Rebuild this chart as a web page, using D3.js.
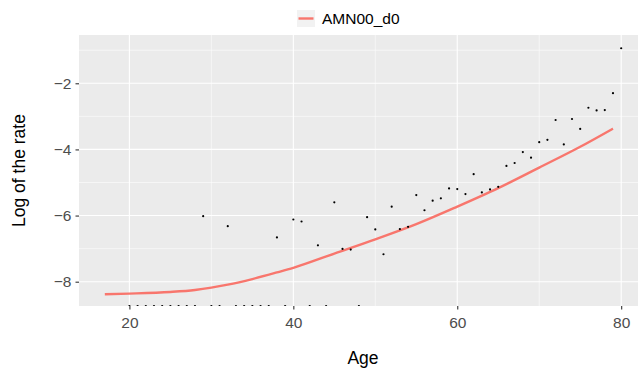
<!DOCTYPE html>
<html>
<head>
<meta charset="utf-8">
<script src="https://cdn.jsdelivr.net/npm/d3@7"></script>
<style>
  body { margin: 0; background: #fff; }
  text { font-family: "Liberation Sans", Arial, Helvetica, sans-serif; }
</style>
</head>
<body>
<figure id="chart" style="margin:0"></figure>
<script>
// observed log rates by age (null = log(0), drawn at the panel floor)
const ages = d3.range(20, 81);
const logRate = [
  null, null, null, null, null, null, null, null, null, -6.02,   // 20-29
  null, null, -6.32, null, null, null, null, null, -6.66, null,  // 30-39
  -6.12, -6.18, null, -6.90, null, -5.60, -7.01, -7.03, null, -6.05, // 40-49
  -6.42, -7.17, -5.73, -6.41, -6.34, -5.38, -5.84, -5.55, -5.48, -5.18, // 50-59
  -5.20, -5.35, -4.75, -5.30, -5.21, -5.13, -4.50, -4.41, -4.08, -4.25, // 60-69
  -3.78, -3.71, -3.11, -3.85, -3.08, -3.38, -2.74, -2.82, -2.81, -2.30, // 70-79
  -0.94                                                          // 80
];

// fitted curve AMN00_d0
const fitAges = [17, 20, 25, 28, 30, 32, 35, 38, 40, 45, 50, 55, 60, 65, 70, 75, 79];
const fitValues = [-8.38, -8.36, -8.31, -8.25, -8.18, -8.09, -7.92, -7.72, -7.58, -7.15, -6.72, -6.26, -5.73, -5.17, -4.55, -3.92, -3.37];

const xTicks = [20, 40, 60, 80];
const xMinor = [30, 50, 70];
const yTicks = [-8, -6, -4, -2];
const yMinor = [-7, -5, -3, -1];
const seriesName = 'AMN00_d0';

const W = 638, H = 371;
const panel = { left: 79, top: 35, right: 647, bottom: 306 };

const svg = d3.select('#chart').append('svg')
  .attr('width', W)
  .attr('height', H);

const x = d3.scaleLinear().domain([13.85, 83.15]).range([panel.left, panel.right]);
const y = d3.scaleLinear().domain([-8.735, -0.54]).range([panel.bottom, panel.top]);

svg.append('clipPath').attr('id', 'panel-clip')
  .append('rect')
  .attr('x', panel.left).attr('y', panel.top)
  .attr('width', panel.right - panel.left).attr('height', panel.bottom - panel.top);

const g = svg.append('g');

g.append('rect')
  .attr('x', panel.left).attr('y', panel.top)
  .attr('width', panel.right - panel.left).attr('height', panel.bottom - panel.top)
  .attr('fill', '#EBEBEB');

// minor grid
g.selectAll('line.xminor').data(xMinor).enter().append('line')
  .attr('x1', d => x(d)).attr('x2', d => x(d))
  .attr('y1', panel.top).attr('y2', panel.bottom)
  .attr('stroke', '#fff').attr('stroke-width', 0.55);
g.selectAll('line.yminor').data(yMinor).enter().append('line')
  .attr('x1', panel.left).attr('x2', panel.right)
  .attr('y1', d => y(d)).attr('y2', d => y(d))
  .attr('stroke', '#fff').attr('stroke-width', 0.55);

// major grid
g.selectAll('line.xmajor').data(xTicks).enter().append('line')
  .attr('x1', d => x(d)).attr('x2', d => x(d))
  .attr('y1', panel.top).attr('y2', panel.bottom)
  .attr('stroke', '#fff').attr('stroke-width', 1.1);
g.selectAll('line.ymajor').data(yTicks).enter().append('line')
  .attr('x1', panel.left).attr('x2', panel.right)
  .attr('y1', d => y(d)).attr('y2', d => y(d))
  .attr('stroke', '#fff').attr('stroke-width', 1.1);

const plot = svg.append('g').attr('clip-path', 'url(#panel-clip)');

const line = d3.line()
  .x((d, i) => x(fitAges[i]))
  .y(d => y(d))
  .curve(d3.curveMonotoneX);

plot.append('path')
  .datum(fitValues)
  .attr('d', line)
  .attr('fill', 'none')
  .attr('stroke', '#F8766D')
  .attr('stroke-width', 2.4);

plot.selectAll('circle.obs')
  .data(ages.map((a, i) => ({ age: a, v: logRate[i] })))
  .enter().append('circle')
  .attr('cx', d => x(d.age))
  .attr('cy', d => d.v === null ? panel.bottom : y(d.v))
  .attr('r', 1.1)
  .attr('fill', '#000');

// axes
const xAxis = svg.append('g')
  .attr('transform', `translate(0,${panel.bottom})`)
  .call(d3.axisBottom(x).tickValues(xTicks).tickSize(3.5).tickPadding(4));
const yAxis = svg.append('g')
  .attr('transform', `translate(${panel.left},0)`)
  .call(d3.axisLeft(y).tickValues(yTicks).tickSize(3.5).tickPadding(4)
    .tickFormat(d => String(d).replace('-', '\u2212')));

[xAxis, yAxis].forEach(ax => {
  ax.select('.domain').remove();
  ax.selectAll('line').attr('stroke', '#333').attr('stroke-width', 1.1);
  ax.selectAll('text').attr('fill', '#4D4D4D').style('font-size', '15.5px');
});
xAxis.selectAll('text').attr('dy', '0.95em');

svg.append('text')
  .attr('x', (panel.left + 647) / 2)
  .attr('y', 364)
  .attr('text-anchor', 'middle')
  .style('font-size', '17.5px')
  .attr('fill', '#000')
  .text('Age');

svg.append('text')
  .attr('transform', `translate(25,${(panel.top + panel.bottom) / 2}) rotate(-90)`)
  .attr('text-anchor', 'middle')
  .style('font-size', '17.5px')
  .attr('fill', '#000')
  .text('Log of the rate');

// legend
const legend = svg.append('g').attr('transform', 'translate(297,10)');
legend.append('rect')
  .attr('width', 18).attr('height', 17)
  .attr('fill', '#F2F2F2');
legend.append('line')
  .attr('x1', 1.5).attr('x2', 16.5)
  .attr('y1', 8.5).attr('y2', 8.5)
  .attr('stroke', '#F8766D').attr('stroke-width', 2.4);
legend.append('text')
  .attr('x', 25).attr('y', 14)
  .style('font-size', '15.5px')
  .attr('fill', '#000')
  .text(seriesName);
</script>
</body>
</html>
